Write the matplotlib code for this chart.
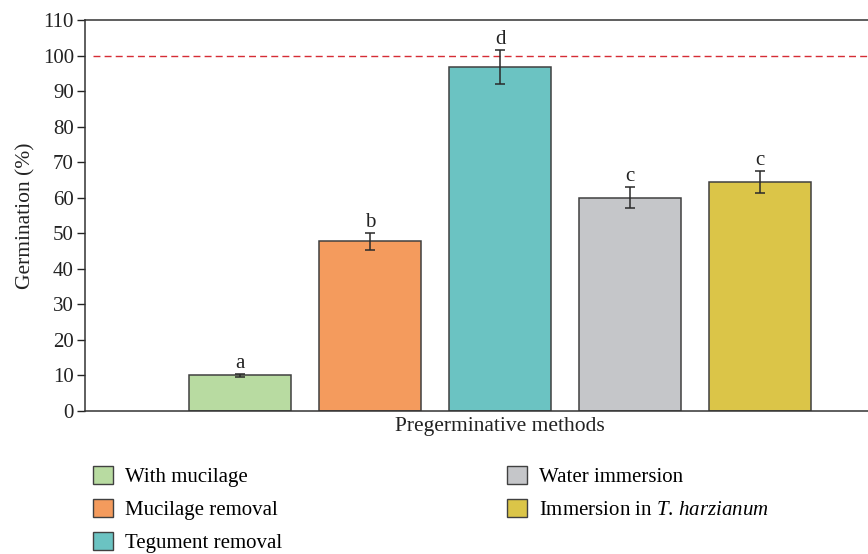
import matplotlib
matplotlib.use("Agg")
import matplotlib.pyplot as plt
from matplotlib.patches import Patch

plt.rcParams['font.family'] = ['Liberation Serif', 'DejaVu Serif']
plt.rcParams['mathtext.fontset'] = 'custom'
plt.rcParams['mathtext.rm'] = 'Liberation Serif'
plt.rcParams['mathtext.it'] = 'Liberation Serif:italic'

methods = ["With mucilage", "Mucilage removal", "Tegument removal",
           "Water immersion", "Immersion in $\\mathit{T.\\,harzianum}$"]
germination = [10.0, 47.7, 96.8, 60.0, 64.4]
errors = [0.5, 2.3, 4.8, 3.0, 3.2]
letters = ["a", "b", "d", "c", "c"]
colors = ["#b8dba1", "#f49b5d", "#6bc3c2", "#c5c6c9", "#dbc548"]

fig = plt.figure(figsize=(8.68, 5.54), dpi=100)
W, H = 868, 554
# axes run past the right edge of the figure
ax = fig.add_axes([85 / W, 1 - 411 / H, (915 - 85) / W, (411 - 20) / H])

x = range(len(methods))
ax.bar(x, germination, width=0.785, color=colors, edgecolor="#404040",
       linewidth=1.1, zorder=2)
ax.errorbar(x, germination, yerr=errors, fmt="none", ecolor="#2a2a2a",
            elinewidth=1.1, capsize=3.8, capthick=1.1, zorder=3)
for xi, v, e, lab in zip(x, germination, errors, letters):
    ax.text(xi, v + e + 0.3, lab, ha="center", va="bottom", fontsize=15,
            color="#222222")

ax.axhline(100, xmin=0.01, color="#d62d35", linestyle=(0, (5, 3)),
           linewidth=1.0, zorder=1)

ax.set_xlim(-1.192, 5.19)
ax.set_ylim(0, 110)
ax.set_yticks(range(0, 111, 10))
ax.set_xticks([])
ax.tick_params(axis="y", direction="out", length=6, width=1.0,
               labelsize=15, colors="#222222", pad=2)
for side in ["left", "bottom", "top", "right"]:
    ax.spines[side].set_linewidth(1.1)
    ax.spines[side].set_color("#333333")

ax.set_ylabel("Germination (%)", fontsize=15.5, color="#222222", labelpad=5)
ax.set_xlabel("Pregerminative methods", fontsize=15.5, color="#222222",
              labelpad=4)

handles = [Patch(facecolor=c, edgecolor="#404040", linewidth=1.0)
           for c in colors]
fig.legend(handles, methods, ncol=2, loc="upper left",
           bbox_to_anchor=(74 / W, 1 - 447 / H), frameon=False,
           fontsize=15, handlelength=0.95, handleheight=0.95,
           handletextpad=0.6, labelspacing=0.58, columnspacing=10.8)

fig.savefig("out.png", dpi=100)
